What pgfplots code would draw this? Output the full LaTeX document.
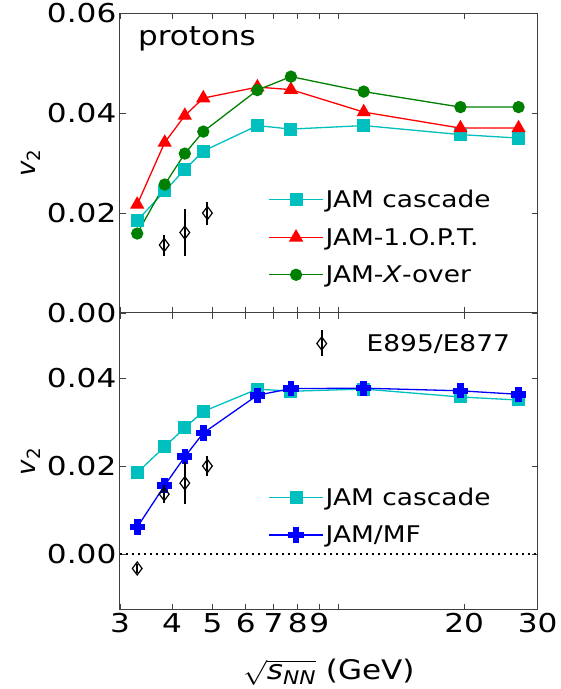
\documentclass[border=0pt]{standalone}
\usepackage{fontspec}
\setmainfont{DejaVu Sans}
\usepackage{amsmath}
\usepackage{graphicx}
\usepackage{pgfplots}
\pgfplotsset{compat=1.18}
\definecolor{jc}{rgb}{0,0.75,0.75}
\definecolor{jg}{rgb}{0,0.5,0}
\definecolor{axc}{rgb}{0.25,0.25,0.25}
\newcommand{\sx}[1]{\scalebox{1.15}[1]{#1}}
\newcommand{\st}[1]{\scalebox{1.2}[1]{#1}}
\newcommand{\fs}[1]{\fontsize{#1}{#1}\selectfont}
\pgfdeclareplotmark{fatplus}{%
  \pgfpathmoveto{\pgfqpoint{-0.38\pgfplotmarksize}{\pgfplotmarksize}}%
  \pgfpathlineto{\pgfqpoint{0.38\pgfplotmarksize}{\pgfplotmarksize}}%
  \pgfpathlineto{\pgfqpoint{0.38\pgfplotmarksize}{0.38\pgfplotmarksize}}%
  \pgfpathlineto{\pgfqpoint{\pgfplotmarksize}{0.38\pgfplotmarksize}}%
  \pgfpathlineto{\pgfqpoint{\pgfplotmarksize}{-0.38\pgfplotmarksize}}%
  \pgfpathlineto{\pgfqpoint{0.38\pgfplotmarksize}{-0.38\pgfplotmarksize}}%
  \pgfpathlineto{\pgfqpoint{0.38\pgfplotmarksize}{-\pgfplotmarksize}}%
  \pgfpathlineto{\pgfqpoint{-0.38\pgfplotmarksize}{-\pgfplotmarksize}}%
  \pgfpathlineto{\pgfqpoint{-0.38\pgfplotmarksize}{-0.38\pgfplotmarksize}}%
  \pgfpathlineto{\pgfqpoint{-\pgfplotmarksize}{-0.38\pgfplotmarksize}}%
  \pgfpathlineto{\pgfqpoint{-\pgfplotmarksize}{0.38\pgfplotmarksize}}%
  \pgfpathlineto{\pgfqpoint{-0.38\pgfplotmarksize}{0.38\pgfplotmarksize}}%
  \pgfpathclose
  \pgfusepathqfillstroke
}
\pgfplotstableread{
x     casc    opt     xover
3.30  0.0185  0.0217  0.0159
3.84  0.0244  0.0341  0.0257
4.29  0.0287  0.0395  0.0319
4.75  0.0324  0.0430  0.0363
6.40  0.0375  0.0452  0.0446
7.70  0.0368  0.0447  0.0473
11.5  0.0375  0.0402  0.0443
19.6  0.0357  0.0370  0.0412
27.0  0.0350  0.0370  0.0412
}\topdata
\pgfplotstableread{
x     casc    mf
3.30  0.0185  0.0061
3.84  0.0244  0.0156
4.29  0.0287  0.0221
4.75  0.0324  0.0275
6.40  0.0375  0.0361
7.70  0.0370  0.0376
11.5  0.0375  0.0377
19.6  0.0357  0.0371
27.0  0.0350  0.0363
}\botdata
\pgfplotstableread{
x     y        e
3.30  -0.0033  0.0010
3.83  0.0136   0.0021
4.29  0.0161   0.0047
4.86  0.0200   0.0023
}\expdata
\begin{document}
\begin{tikzpicture}
\begin{axis}[name=top, scale only axis, width=418pt, height=300pt,
  xmode=log, xmin=3, xmax=30, ymin=0, ymax=0.06,
  xtick={3,4,5,6,7,8,9,10,20,30}, minor xtick={}, xticklabels={},
  ytick={0,0.02,0.04,0.06}, scaled y ticks=false,
  tick align=inside, xtick pos=both, ytick pos=both,
  major tick length=6pt,
  axis line style={axc, line width=1pt},
  tick style={axc, line width=0.8pt},
  /pgf/number format/assume math mode=true,
  yticklabel={\st{\pgfmathprintnumber[fixed,fixed zerofill,precision=2]{\tick}}},
  ticklabel style={font=\fs{26}},
  ylabel style={font=\fs{26}},
  ylabel={\textit{v}\textsubscript{2}},
  legend cell align=left,
  legend style={draw=none, fill=none, font=\fs{23}, row sep=15pt, inner sep=0pt,
    at={(0.355,0.417)}, anchor=north west},
  legend image code/.code={\draw[mark repeat=2,mark phase=2,#1] plot coordinates {(0pt,0pt) (27pt,0pt) (54pt,0pt)};}]
\addplot[jc, line width=1.3pt, mark=square*, mark size=5.8pt] table[x=x,y=casc] {\topdata};
\addlegendentry{\sx{JAM cascade}}
\addplot[red, line width=1.3pt, mark=triangle*, mark size=7pt] table[x=x,y=opt] {\topdata};
\addlegendentry{\sx{JAM-1.O.P.T.}}
\addplot[jg, line width=1.3pt, mark=*, mark size=5.5pt] table[x=x,y=xover] {\topdata};
\addlegendentry{\sx{JAM-\textit{X}-over}}
\addplot[black, only marks, mark=diamond, mark size=6.5pt, line width=1.2pt, forget plot,
  error bars/.cd, y dir=both, y explicit, error mark=none,
  error bar style={line width=2pt, black}] table[x=x,y=y,y error=e] {\expdata};
\node[anchor=west, font=\fs{27}] at (rel axis cs:0.035,0.913) {\sx{protons}};
\end{axis}
\begin{axis}[name=bot, at={(top.south west)}, anchor=north west,
  scale only axis, width=418pt, height=297pt,
  xmode=log, xmin=3, xmax=30, ymin=-0.0127, ymax=0.0548,
  xtick={3,4,5,6,7,8,9,10,20,30}, minor xtick={},
  xticklabels={\st{3},\st{4},\st{5},\st{6},\st{7},\st{8},\st{9},,\st{20},\st{30}},
  ytick={0,0.02,0.04}, scaled y ticks=false,
  tick align=inside, xtick pos=both, ytick pos=both,
  major tick length=6pt,
  axis line style={axc, line width=1pt},
  tick style={axc, line width=0.8pt},
  /pgf/number format/assume math mode=true,
  yticklabel={\st{\pgfmathprintnumber[fixed,fixed zerofill,precision=2]{\tick}}},
  ticklabel style={font=\fs{26}},
  ylabel style={font=\fs{26}},
  ylabel={\textit{v}\textsubscript{2}},
  xlabel={\sx{$\sqrt{\text{\itshape s}_{\text{\itshape NN}}}$ (GeV)}},
  xlabel style={font=\fs{27}, yshift=-19pt},
  legend cell align=left,
  legend style={draw=none, fill=none, font=\fs{23}, row sep=15pt, inner sep=0pt,
    at={(0.355,0.418)}, anchor=north west},
  legend image code/.code={\draw[mark repeat=2,mark phase=2,#1] plot coordinates {(0pt,0pt) (27pt,0pt) (54pt,0pt)};}]
\addplot[black, line width=2.2pt, dash pattern=on 2.2pt off 3.8pt, forget plot] coordinates {(3,0) (30,0)};
\addplot[jc, line width=1.3pt, mark=square*, mark size=5.8pt] table[x=x,y=casc] {\botdata};
\addlegendentry{\sx{JAM cascade}}
\addplot[blue, line width=1.3pt, mark=fatplus, mark size=7pt] table[x=x,y=mf] {\botdata};
\addlegendentry{\sx{JAM/MF}}
\end{axis}
\begin{axis}[at={(top.south west)}, anchor=north west,
  scale only axis, width=418pt, height=297pt, hide axis,
  xmode=log, xmin=3, xmax=30, ymin=-0.0127, ymax=0.0548,
  legend cell align=left,
  legend style={draw=none, fill=none, font=\fs{23}, inner sep=0pt,
    at={(0.418,0.945)}, anchor=north west},
  legend image code/.code={%
    \draw[black, line width=2pt] (27pt,-13pt) -- (27pt,13pt);
    \draw[black, line width=1.2pt] plot[mark=diamond, mark size=6.5pt] coordinates {(27pt,0pt)};
    \path[draw=none] (0pt,0pt) -- (70pt,0pt);}]
\addplot[black, only marks, mark=diamond, mark size=6.5pt, line width=1.2pt,
  error bars/.cd, y dir=both, y explicit, error mark=none,
  error bar style={line width=2pt, black}] table[x=x,y=y,y error=e] {\expdata};
\addlegendentry{\sx{E895/E877}}
\end{axis}
\path ([xshift=-120pt]top.north west) ([xshift=20pt]top.north east);
\end{tikzpicture}
\end{document}
